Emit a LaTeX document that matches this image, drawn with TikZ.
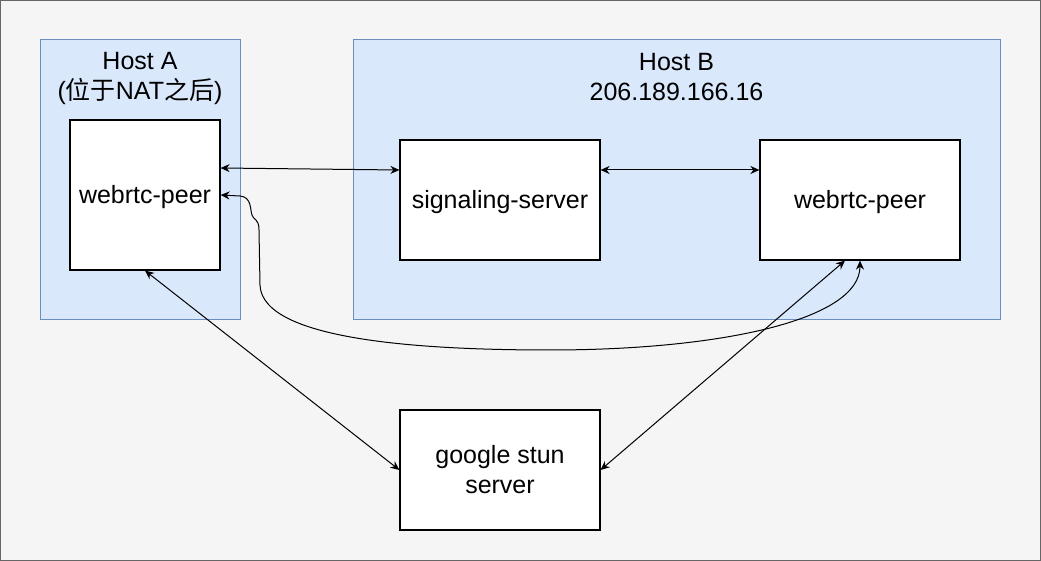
\documentclass[tikz,border=0pt]{standalone}
\usepackage{fontspec}
\setmainfont{Liberation Sans}
\newfontfamily\cjk{Noto Sans CJK SC}
\usetikzlibrary{arrows.meta}

\definecolor{bggray}{HTML}{F5F5F5}
\definecolor{bgline}{HTML}{666666}
\definecolor{hostfill}{HTML}{DAE8FC}
\definecolor{hostline}{HTML}{6C8EBF}

\tikzset{
  host/.style={draw=hostline, fill=hostfill, line width=0.5pt, inner sep=0pt},
  box/.style={draw=black, fill=white, line width=0.6pt, align=center, inner sep=0pt,
    text depth=1pt, font=\fontsize{12.5}{15}\selectfont},
  title/.style={align=center, font=\fontsize{12.5}{15}\selectfont},
  link/.style={line width=0.5pt, {Stealth[length=4.5pt,width=4pt]}-{Stealth[length=4.5pt,width=4pt]}}
}

\begin{document}
\begin{tikzpicture}[x=0.5pt, y=-0.5pt]
  % background
  \useasboundingbox (0,0) rectangle (1041,561);
  \filldraw[fill=bggray, draw=bgline, line width=0.6pt] (0.6,0.6) rectangle (1040.4,560.4);

  % the two hosts
  \node[host, minimum width=100pt, minimum height=140pt] (hostA) at (140,180) {};
  \node[title] (hostAlabel) at (140,78) {Host A\\({\cjk 位于}NAT{\cjk 之后})};
  \node[host, minimum width=323.5pt, minimum height=140pt] (hostB) at (676.5,180) {};
  \node[title] (hostBlabel) at (676.5,77) {Host B\\206.189.166.16};

  % peers and servers
  \node[box, minimum width=75pt, minimum height=75pt] (peerA) at (145,195) {webrtc-peer};
  \node[box, minimum width=100pt, minimum height=60pt] (signal) at (500,200) {signaling-server};
  \node[box, minimum width=100pt, minimum height=60pt] (peerB) at (860,200) {webrtc-peer};
  \node[box, minimum width=100pt, minimum height=60pt] (stun) at (500,470) {google stun\\server};

  % links
  \draw[link] ([yshift=13.5pt]peerA.east) -- ([yshift=15pt]signal.west);
  \draw[link] ([yshift=15pt]signal.east) -- ([yshift=15pt]peerB.west);
  \draw[link] (peerA.south) -- (stun.west);
  \draw[link] ([xshift=-7.5pt]peerB.south) -- (stun.east);

  % direct peer to peer path
  \draw[link] (peerA.east) -- (240,196)
    .. controls (252,197) and (250,210) .. (252,215)
    .. controls (253,220) and (259,218) .. (259,230)
    -- (260,285)
    .. controls (262,340) and (420,350) .. (550,350)
    .. controls (720,350) and (860,320) .. (peerB.south);
\end{tikzpicture}
\end{document}
